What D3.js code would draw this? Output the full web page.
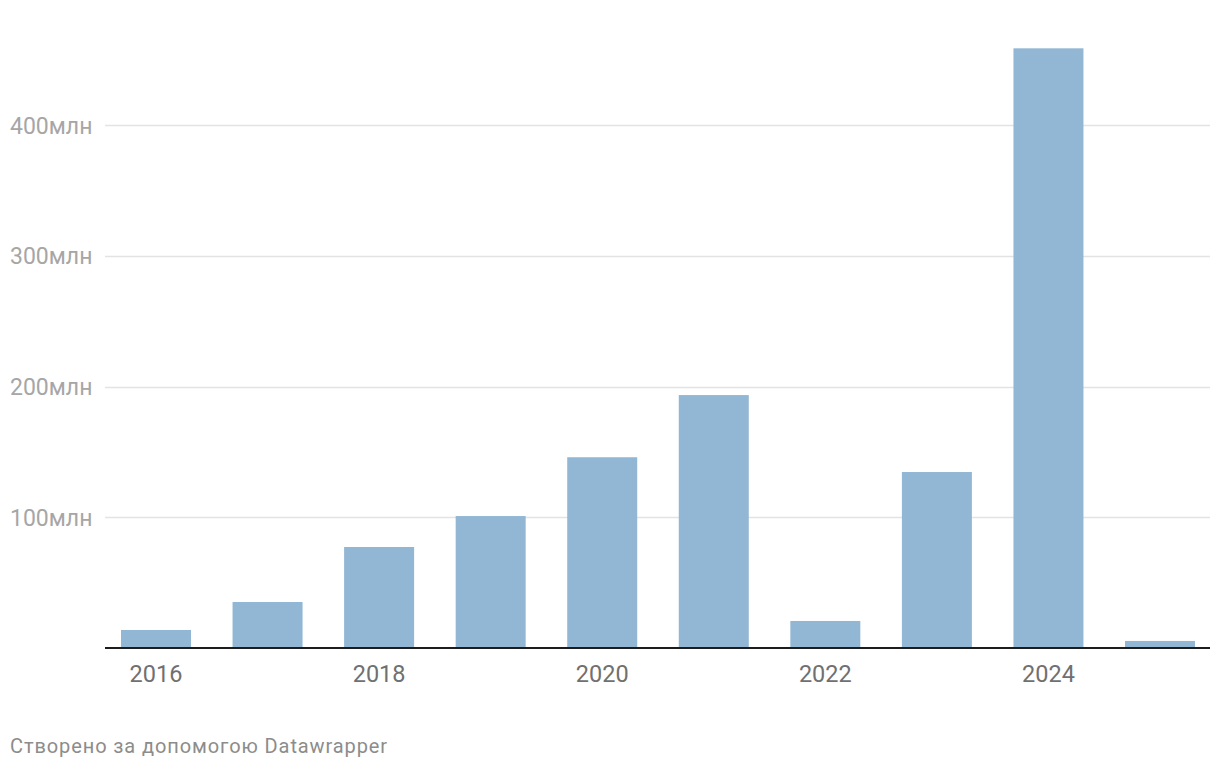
<!DOCTYPE html>
<html>
<head>
<meta charset="utf-8">
<script src="https://cdn.jsdelivr.net/npm/d3@7"></script>
<style>
  html, body { margin: 0; padding: 0; background: #fff; }
  svg { display: block; font-family: Roboto, "Noto Sans", sans-serif; }
</style>
</head>
<body>
<svg id="chart" width="1220" height="770"></svg>
<script>
const years = ["2016","2017","2018","2019","2020","2021","2022","2023","2024","2025"];
const values = [13.8, 35.2, 77.3, 101, 146, 193.6, 20.7, 134.7, 459, 5.4];
const yTicks = [100, 200, 300, 400];
const xTickLabels = ["2016","2018","2020","2022","2024"];
const footerText = "Створено за допомогою Datawrapper";

const svg = d3.select("#chart");
const left = 105, right = 1210, baseY = 648, topY = 125.4;

const x = d3.scaleBand().domain(years).range([121, 1195]).paddingInner(0.3725).paddingOuter(0);
const y = d3.scaleLinear().domain([0, 400]).range([baseY, topY]);

// gridlines
svg.append("g").selectAll("line").data(yTicks).join("line")
  .attr("x1", left).attr("x2", right)
  .attr("y1", d => Math.round(y(d)) + 0.5).attr("y2", d => Math.round(y(d)) + 0.5)
  .attr("stroke", "#e3e3e3").attr("stroke-width", 1.5);

// y labels
svg.append("g").selectAll("text").data(yTicks).join("text")
  .attr("x", 10).attr("y", d => y(d)).attr("dy", "0.36em")
  .attr("font-size", 23).attr("fill", "#a6a6a6")
  .text(d => d + "млн");

// bars
svg.append("g").selectAll("rect").data(years).join("rect")
  .attr("x", d => x(d)).attr("width", x.bandwidth())
  .attr("y", (d, i) => y(values[i])).attr("height", (d, i) => baseY - y(values[i]))
  .attr("fill", "#92b7d4");

// baseline
svg.append("line").attr("x1", left).attr("x2", right).attr("y1", baseY).attr("y2", baseY)
  .attr("stroke", "#1c1c1c").attr("stroke-width", 2);

// x labels
svg.append("g").selectAll("text").data(xTickLabels).join("text")
  .attr("x", d => x(d) + x.bandwidth() / 2).attr("y", 682)
  .attr("text-anchor", "middle").attr("font-size", 23.5).attr("fill", "#707070")
  .text(d => d);

// footer
svg.append("text").attr("x", 10).attr("y", 753)
  .attr("font-size", 20).attr("letter-spacing", 0.9).attr("fill", "#8c8c8c").text(footerText);
</script>
</body>
</html>
